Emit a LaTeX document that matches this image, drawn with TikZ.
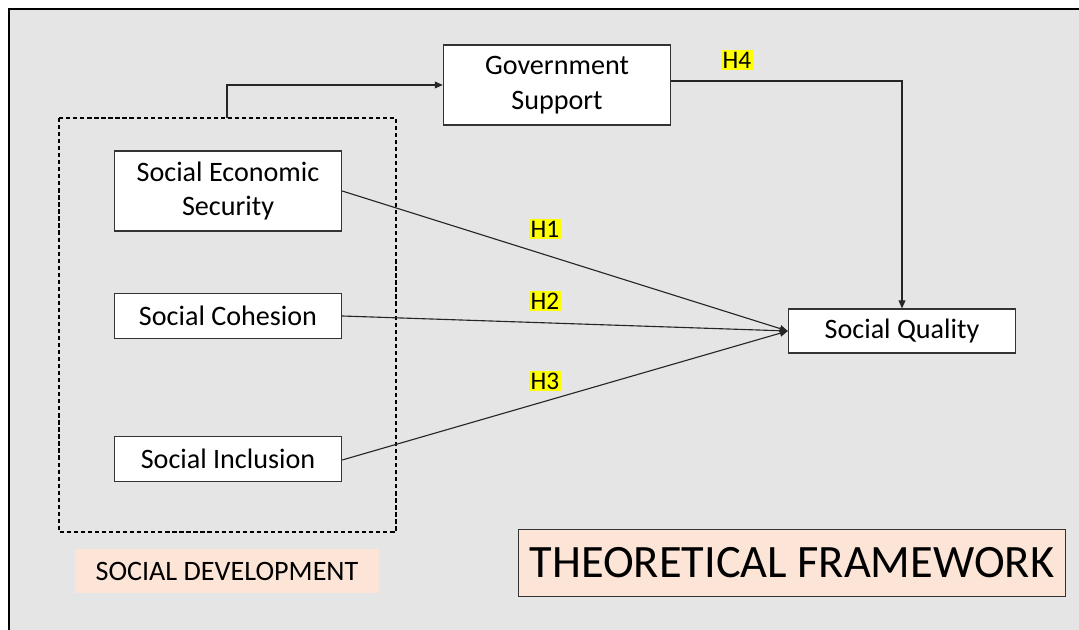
\documentclass[tikz,border=0pt]{standalone}
\usepackage{fontspec}
\setmainfont{Carlito}
\usetikzlibrary{arrows.meta,positioning,calc}
\definecolor{panel}{RGB}{229,229,229}
\definecolor{peach}{RGB}{252,229,214}
\definecolor{hilite}{RGB}{255,255,0}

\begin{document}
\begin{tikzpicture}[x=0.025cm, y=-0.025cm, font=\fontsize{20}{24.5}\selectfont,
  >={Triangle[length=2mm, width=1.7mm]},
  var/.style={rectangle, draw=black!80, fill=white, thick, align=center,
              minimum width=5.68cm, inner sep=1pt},
  hyp/.style={fill=hilite, inner sep=1.2pt, font=\fontsize{18}{20}\selectfont},
  link/.style={->, thick, black!85}]
  \useasboundingbox (0,0) rectangle (1079,630);
  % panel
  \fill[panel] (9,9) rectangle (1079,630);
  \draw[line width=1.3pt] (9,630) -- (9,9) -- (1079,9);

  % social development group
  \draw[dash pattern=on 3pt off 2pt, thick] (59,118) rectangle (396,532);
  \coordinate (grp) at (227,118);
  \node[fill=peach, minimum width=7.62cm, minimum height=1.12cm,
        font=\fontsize{20}{22}\selectfont] (SD) at (227,571) {SOCIAL DEVELOPMENT};

  \node[var, minimum height=2cm] (SES) at (228,191) {Social Economic\\ Security};
  \node[var, minimum height=1.12cm] (SC) at (228,316) {Social Cohesion};
  \node[var, minimum height=1.12cm] (SI) at (228,459) {Social Inclusion};
  \node[var, minimum height=2cm] (GS) at (557,85) {Government\\ Support};
  \node[var, minimum height=1.1cm] (SQ) at (902,331) {Social Quality};

  \node[draw=black!80, thick, fill=peach, minimum width=13.67cm, minimum height=1.67cm,
        font=\fontsize{33}{36}\selectfont] (TF) at (792,563) {THEORETICAL FRAMEWORK};

  % paths
  \draw[link] (grp) |- (GS.west);
  \draw[link] (GS.east |- 0,81) -| (SQ.north);
  \draw[link] (SES.east |- 0,191) -- (SQ.west);
  \draw[link] (SC.east) -- (SQ.west);
  \draw[link] (SI.east |- 0,460) -- (SQ.west);

  \node[hyp] (H4) at (737,60) {H4};
  \node[hyp] (H1) at (545,229) {H1};
  \node[hyp] (H2) at (545,301) {H2};
  \node[hyp] (H3) at (545,381) {H3};
\end{tikzpicture}
\end{document}
